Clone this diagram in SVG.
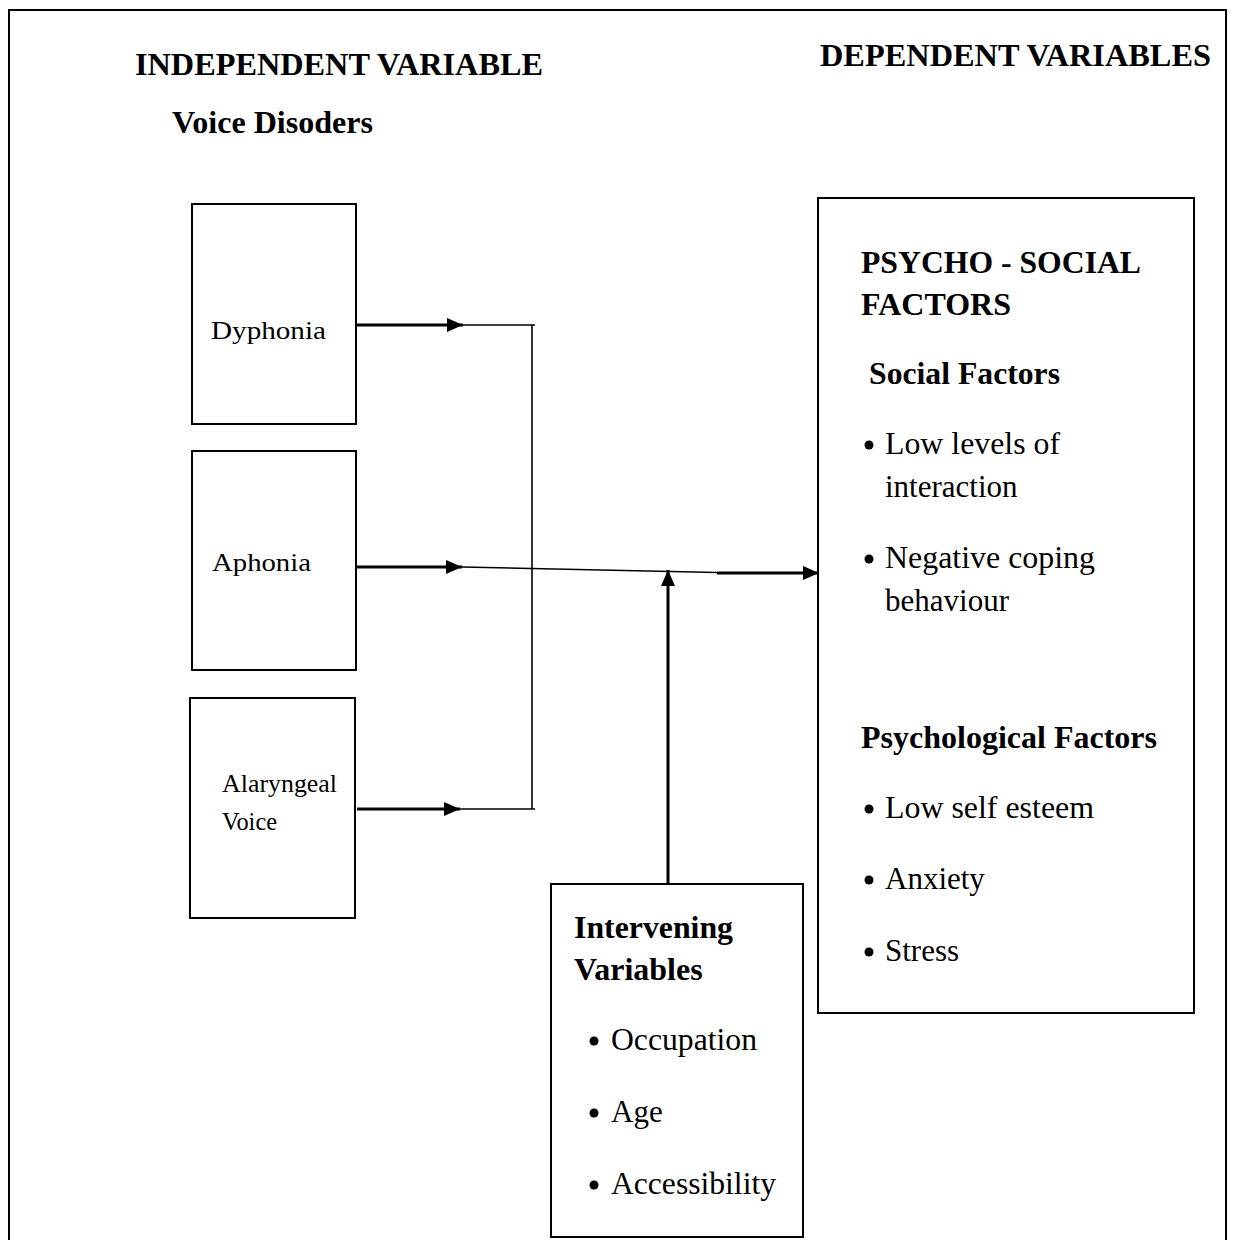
<svg xmlns="http://www.w3.org/2000/svg" width="1234" height="1240" viewBox="0 0 1234 1240">
<style>
.box{fill:#fff;stroke:#000;stroke-width:2}
.b{font-family:"Liberation Serif","Times New Roman",serif;font-weight:bold;font-size:32px;fill:#000}
.r{font-family:"Liberation Serif","Times New Roman",serif;font-size:31px;fill:#000}
.s{font-family:"Liberation Serif","Times New Roman",serif;font-size:25px;fill:#000}
.thin{stroke:#000;stroke-width:1.6;fill:none}
.heavy{stroke:#000;stroke-width:3;fill:none}
.dot{fill:#000}
</style>
<defs>
<marker id="ah" viewBox="0 0 16 14" refX="16" refY="7" markerWidth="16" markerHeight="14" markerUnits="userSpaceOnUse" orient="auto">
<path d="M0,0 L16,7 L0,14 Z" fill="#000"/>
</marker>
</defs>
<rect x="0" y="0" width="1234" height="1240" fill="#fff"/>
<path d="M9,1240 V10 H1226 V1240" fill="none" stroke="#000" stroke-width="2"/>

<g id="headings">
<text class="b" x="135" y="75" textLength="408" lengthAdjust="spacingAndGlyphs">INDEPENDENT VARIABLE</text>
<text class="b" x="820" y="66" textLength="391" lengthAdjust="spacingAndGlyphs">DEPENDENT VARIABLES</text>
<text class="b" x="172" y="133" textLength="201" lengthAdjust="spacingAndGlyphs">Voice Disoders</text>
</g>

<g id="connectors">
<line class="heavy" x1="357" y1="325" x2="463" y2="325" marker-end="url(#ah)"/>
<line class="thin" x1="463" y1="325" x2="535" y2="325"/>
<line class="heavy" x1="357" y1="809" x2="460" y2="809" marker-end="url(#ah)"/>
<line class="thin" x1="460" y1="809" x2="535" y2="809"/>
<line class="thin" x1="532" y1="325" x2="532" y2="809"/>
<line class="heavy" x1="357" y1="567" x2="462" y2="567" marker-end="url(#ah)"/>
<line class="thin" x1="462" y1="567" x2="717" y2="572.5"/>
<line class="heavy" x1="717" y1="573" x2="819" y2="573" marker-end="url(#ah)"/>
<line class="heavy" x1="668" y1="884" x2="668" y2="570" marker-end="url(#ah)"/>
</g>

<g id="dyphonia">
<rect class="box" x="192" y="204" width="164" height="220"/>
<text class="s" x="211" y="339" textLength="115" lengthAdjust="spacingAndGlyphs">Dyphonia</text>
</g>

<g id="aphonia">
<rect class="box" x="192" y="451" width="164" height="219"/>
<text class="s" x="212" y="571" textLength="99" lengthAdjust="spacingAndGlyphs">Aphonia</text>
</g>

<g id="alaryngeal">
<rect class="box" x="190" y="698" width="165" height="220"/>
<text class="s" x="222" y="792" textLength="115" lengthAdjust="spacingAndGlyphs">Alaryngeal</text>
<text class="s" x="222" y="830" textLength="55" lengthAdjust="spacingAndGlyphs">Voice</text>
</g>

<g id="intervening">
<rect class="box" x="551" y="884" width="252" height="353"/>
<text class="b" x="574" y="938" textLength="159" lengthAdjust="spacingAndGlyphs">Intervening</text>
<text class="b" x="574" y="980">Variables</text>
<circle class="dot" cx="594" cy="1041" r="4.5"/>
<text class="r" x="611" y="1050" textLength="146" lengthAdjust="spacingAndGlyphs">Occupation</text>
<circle class="dot" cx="594" cy="1113" r="4.5"/>
<text class="r" x="611" y="1122">Age</text>
<circle class="dot" cx="594" cy="1185" r="4.5"/>
<text class="r" x="611" y="1194" textLength="165" lengthAdjust="spacingAndGlyphs">Accessibility</text>
</g>

<g id="psychosocial">
<rect class="box" x="818" y="198" width="376" height="815"/>
<text class="b" x="861" y="273" textLength="280" lengthAdjust="spacingAndGlyphs">PSYCHO - SOCIAL</text>
<text class="b" x="861" y="315">FACTORS</text>
<text class="b" x="869" y="384" textLength="191" lengthAdjust="spacingAndGlyphs">Social Factors</text>
<circle class="dot" cx="869" cy="445" r="4.5"/>
<text class="r" x="885" y="454" textLength="175" lengthAdjust="spacingAndGlyphs">Low levels of</text>
<text class="r" x="885" y="497">interaction</text>
<circle class="dot" cx="869" cy="559" r="4.5"/>
<text class="r" x="885" y="568" textLength="210" lengthAdjust="spacingAndGlyphs">Negative coping</text>
<text class="r" x="885" y="611">behaviour</text>
<text class="b" x="861" y="748" textLength="296" lengthAdjust="spacingAndGlyphs">Psychological Factors</text>
<circle class="dot" cx="869" cy="809" r="4.5"/>
<text class="r" x="885" y="818" textLength="209" lengthAdjust="spacingAndGlyphs">Low self esteem</text>
<circle class="dot" cx="869" cy="880" r="4.5"/>
<text class="r" x="885" y="889">Anxiety</text>
<circle class="dot" cx="869" cy="952" r="4.5"/>
<text class="r" x="885" y="961">Stress</text>
</g>
</svg>
